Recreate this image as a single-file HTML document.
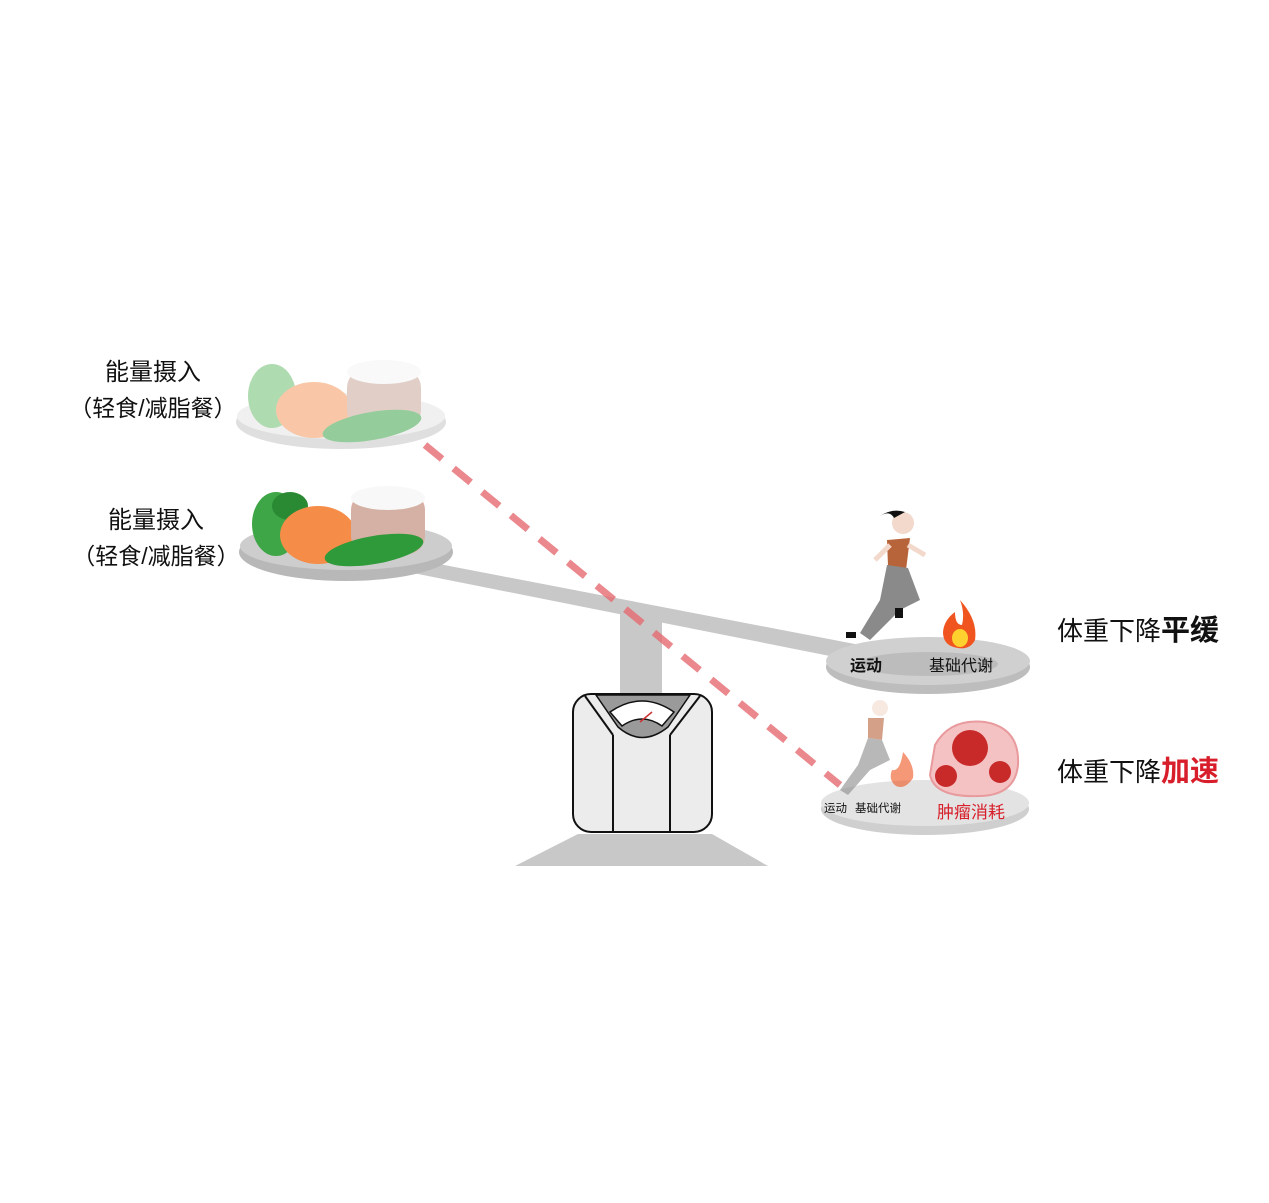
<!DOCTYPE html>
<html><head><meta charset="utf-8"><style>
html,body{margin:0;padding:0;background:#fff;}
svg text{font-family:"Liberation Sans","Noto Sans CJK SC",sans-serif;}
</style></head><body>
<svg width="1269" height="1198" viewBox="0 0 1269 1198" xmlns="http://www.w3.org/2000/svg">
<rect width="1269" height="1198" fill="#fff"/>
<polygon points="578,834 712,834 768,866 515,866" fill="#c8c8c8"/>
<rect x="620" y="608" width="42" height="92" fill="#c8c8c8"/>
<polygon points="408,558 860,645 860,662 408,572" fill="#c8c8c8"/>
<rect x="573" y="694" width="139" height="138" rx="18" fill="#ececec" stroke="#111" stroke-width="2"/>
<line x1="613" y1="735" x2="613" y2="832" stroke="#111" stroke-width="2"/>
<line x1="670" y1="735" x2="670" y2="832" stroke="#111" stroke-width="2"/>
<path d="M585,696 L613,735 M700,696 L670,735" stroke="#111" stroke-width="2" fill="none"/>
<path d="M596,695 L690,695 L668,727 Q642,748 618,727 Z" fill="#9a9a9a" stroke="#111" stroke-width="1.5"/>
<path d="M610,712 Q642,690 674,712 L662,726 Q642,712 622,726 Z" fill="#fff" stroke="#111" stroke-width="1.5"/>
<line x1="640" y1="722" x2="652" y2="712" stroke="#c33" stroke-width="1.5"/>
<g opacity="0.55">
<ellipse cx="341" cy="422" rx="105" ry="27" fill="#c6c6c6"/>
<ellipse cx="341" cy="416" rx="104" ry="23" fill="#e4e4e4"/>
<ellipse cx="272" cy="396" rx="24" ry="32" fill="#6fbf73"/>
<ellipse cx="314" cy="410" rx="38" ry="28" fill="#f59a62"/>
<rect x="347" y="368" width="74" height="62" rx="20" fill="#c9a89b"/>
<ellipse cx="384" cy="372" rx="37" ry="12" fill="#f5f5f5"/>
<ellipse cx="372" cy="426" rx="50" ry="14" transform="rotate(-10 372 426)" fill="#3fa34a"/>
</g>
<ellipse cx="346" cy="552" rx="107" ry="29" fill="#b8b8b8"/>
<ellipse cx="346" cy="546" rx="106" ry="24" fill="#cdcdcd"/>
<ellipse cx="276" cy="524" rx="24" ry="32" fill="#3ea646"/>
<ellipse cx="290" cy="506" rx="18" ry="14" fill="#2a8a34"/>
<ellipse cx="318" cy="535" rx="38" ry="29" fill="#f58c48"/>
<rect x="351" y="492" width="74" height="62" rx="18" fill="#d5b0a4"/>
<ellipse cx="388" cy="498" rx="37" ry="12" fill="#f8f8f8"/>
<ellipse cx="374" cy="550" rx="50" ry="14" transform="rotate(-10 374 550)" fill="#2f9a3a"/>
<line x1="425" y1="445" x2="840" y2="785" stroke="#e56a70" stroke-opacity="0.8" stroke-width="7" stroke-dasharray="22 15"/>
<ellipse cx="928" cy="667" rx="102" ry="27" fill="#bdbdbd"/>
<ellipse cx="928" cy="661" rx="102" ry="24" fill="#d0d0d0"/>
<ellipse cx="928" cy="664" rx="70" ry="12" fill="#bcbcbc"/>
<circle cx="903" cy="523" r="11" fill="#f3d9cc"/>
<path d="M894,518 Q890,510 880,516 Q892,508 905,512 Z" fill="#111"/>
<path d="M887,540 L910,538 L906,570 L888,566 Z" fill="#b8643a"/>
<path d="M887,565 L908,568 L920,600 L900,610 L870,640 L860,633 L880,600 Z" fill="#8a8a8a"/>
<path d="M890,545 L875,560 M908,545 L925,555" stroke="#f3d9cc" stroke-width="5" fill="none"/>
<rect x="846" y="632" width="10" height="6" fill="#111"/>
<rect x="895" y="608" width="8" height="10" fill="#111"/>
<path d="M960,600 Q978,620 975,640 Q970,650 958,648 Q943,646 943,632 Q944,620 955,612 Q955,625 962,625 Q965,613 960,600 Z" fill="#f0551f"/>
<ellipse cx="960" cy="638" rx="8" ry="9" fill="#ffd12e"/>
<text x="850" y="671" font-size="16" font-weight="bold" fill="#111">运动</text>
<text x="929" y="671" font-size="16" fill="#111">基础代谢</text>
<ellipse cx="925" cy="809" rx="104" ry="26" fill="#cfcfcf"/>
<ellipse cx="925" cy="803" rx="104" ry="23" fill="#e3e3e3"/>
<g opacity="0.6">
<circle cx="880" cy="708" r="8" fill="#f3d9cc"/>
<path d="M868,718 L884,718 L882,740 L868,738 Z" fill="#b8643a"/>
<path d="M868,738 L882,740 L890,760 L870,770 L848,795 L840,790 L858,765 Z" fill="#8a8a8a"/>
<path d="M903,752 Q915,765 913,778 Q905,790 896,786 Q888,780 892,770 Q900,772 903,752 Z" fill="#f0551f"/>
</g>
<path d="M935,745 Q950,718 985,722 Q1020,728 1018,765 Q1015,795 980,796 Q935,798 930,775 Z" fill="#f5c2c4" stroke="#e89a9d" stroke-width="2"/>
<circle cx="970" cy="748" r="18" fill="#c82a2a"/>
<circle cx="946" cy="776" r="11" fill="#c82a2a"/>
<circle cx="1000" cy="772" r="11" fill="#c82a2a"/>
<text x="824" y="812" font-size="11.5" fill="#111">运动</text>
<text x="855" y="812" font-size="11.5" fill="#111">基础代谢</text>
<text x="937" y="818" font-size="17" fill="#d81e2a">肿瘤消耗</text>
<text x="153" y="380" font-size="24" text-anchor="middle" fill="#111">能量摄入</text>
<text x="153" y="416" font-size="23" text-anchor="middle" fill="#111">（轻食/减脂餐）</text>
<text x="156" y="528" font-size="24" text-anchor="middle" fill="#111">能量摄入</text>
<text x="156" y="564" font-size="23" text-anchor="middle" fill="#111">（轻食/减脂餐）</text>
<text x="1057" y="640" font-size="26" fill="#111">体重下降<tspan font-weight="bold" font-size="29">平缓</tspan></text>
<text x="1057" y="781" font-size="26" fill="#111">体重下降<tspan font-weight="bold" font-size="29" fill="#d81e2a">加速</tspan></text>
</svg>
</body></html>
